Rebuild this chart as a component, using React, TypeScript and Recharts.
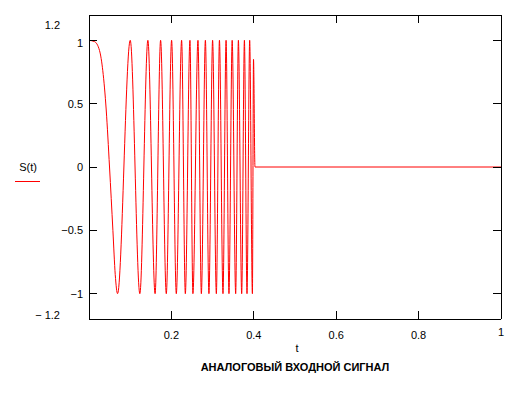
import { Line, LineChart, XAxis, YAxis } from "recharts";

// peaks (+1) and troughs (-1) of S(t)
const peakT = [0.1001, 0.1429, 0.1738, 0.2005, 0.2248, 0.245, 0.2645, 0.2825, 0.3, 0.3166, 0.3327, 0.3475, 0.3626, 0.3772, 0.39];
const troughT = [0.0693, 0.1234, 0.1604, 0.1876, 0.2119, 0.2338, 0.2522, 0.2727, 0.2911, 0.3091, 0.3252, 0.3397, 0.356, 0.3706, 0.3835, 0.3966];

// first falling half-wave
const startT = [0, 0.0134, 0.0255, 0.0335, 0.0418, 0.0498, 0.058, 0.0637];
const startS = [1, 0.99, 0.92, 0.76, 0.45, 0.0, -0.5, -0.85];

// end of the burst and the flat tail
const tailT = [0.3993, 0.4029, 1];
const tailS = [0.85, 0, 0];

const xTicks = [0.2, 0.4, 0.6, 0.8, 1];
const yTicks = [-1.2, -1, -0.5, 0, 0.5, 1, 1.2];
const yInner = [-1, -0.5, 0, 0.5, 1];

const data: { t: number; s: number }[] = [];
startT.forEach((t, i) => data.push({ t, s: startS[i] }));
troughT.forEach((t, i) => {
  if (i > 0) data.push({ t: peakT[i - 1], s: 1 });
  data.push({ t, s: -1 });
});
tailT.forEach((t, i) => data.push({ t, s: tailS[i] }));
data.sort((a, b) => a.t - b.t);

const font = '"Liberation Sans", Arial, sans-serif';
const frame = { stroke: "#000", shapeRendering: "crispEdges" };

function fmtY(v: number) {
  if (v === -1.2) return "\u2212 1.2";
  if (v < 0) return "\u2212" + String(-v);
  return String(v);
}

function LeftTick(props: any) {
  const { x, y, payload } = props;
  const v = payload.value as number;
  if (Math.abs(v) === 1.2) {
    return (
      <text x={x - 29} y={v > 0 ? y + 10 : y - 4} textAnchor="end" dominantBaseline="central" fontSize={11} fontFamily={font} fill="#000">
        {fmtY(v)}
      </text>
    );
  }
  return (
    <g>
      <path d={`M${x},${y}h8`} stroke="#000" strokeWidth={1} fill="none" shapeRendering="crispEdges" />
      <text x={x - 6} y={y + (v === 1 ? 3 : 0)} textAnchor="end" dominantBaseline="central" fontSize={11} fontFamily={font} fill="#000">
        {fmtY(v)}
      </text>
    </g>
  );
}

function RightTick(props: any) {
  const { x, y } = props;
  return <path d={`M${x},${y}h-8`} stroke="#000" strokeWidth={1} fill="none" shapeRendering="crispEdges" />;
}

function BottomTick(props: any) {
  const { x, y, payload } = props;
  const v = payload.value as number;
  return (
    <g>
      {v < 1 && <path d={`M${x},${y}v-8`} stroke="#000" strokeWidth={1} fill="none" shapeRendering="crispEdges" />}
      <text x={x} y={y + (v === 1 ? 13 : 16)} textAnchor="middle" dominantBaseline="central" fontSize={11} fontFamily={font} fill="#000">
        {v}
      </text>
    </g>
  );
}

function TopTick(props: any) {
  const { x, y, payload } = props;
  if (payload.value >= 1) return <g />;
  return <path d={`M${x},${y}v8`} stroke="#000" strokeWidth={1} fill="none" shapeRendering="crispEdges" />;
}

export default function App() {
  return (
    <div style={{ position: "absolute", left: 0, top: 0, width: 530, height: 396, background: "#fff", fontFamily: font }}>
      <LineChart width={530} height={396} data={data} margin={{ top: 14, right: 28, bottom: 0, left: 0 }}>
        <XAxis
          xAxisId={0}
          dataKey="t"
          type="number"
          domain={[0, 1]}
          ticks={xTicks}
          interval={0}
          height={77}
          tickSize={0}
          tickMargin={0}
          tickLine={false}
          tick={<BottomTick />}
          axisLine={frame}
        />
        <XAxis
          xAxisId="top"
          dataKey="t"
          orientation="top"
          type="number"
          domain={[0, 1]}
          ticks={xTicks}
          interval={0}
          height={1}
          tickSize={0}
          tickMargin={0}
          tickLine={false}
          tick={<TopTick />}
          axisLine={frame}
        />
        <YAxis
          yAxisId={0}
          type="number"
          domain={[-1.2, 1.2]}
          ticks={yTicks}
          interval={0}
          width={89}
          tickSize={0}
          tickMargin={0}
          tickLine={false}
          tick={<LeftTick />}
          axisLine={frame}
        />
        <YAxis
          yAxisId="right"
          orientation="right"
          type="number"
          domain={[-1.2, 1.2]}
          ticks={yInner}
          interval={0}
          width={1}
          tickSize={0}
          tickMargin={0}
          tickLine={false}
          tick={<RightTick />}
          axisLine={frame}
        />
        {/* invisible copy so the top and right axes get drawn */}
        <Line
          xAxisId="top"
          yAxisId="right"
          dataKey="s"
          stroke="none"
          dot={false}
          activeDot={false}
          isAnimationActive={false}
        />
        <Line
          xAxisId={0}
          yAxisId={0}
          type="monotone"
          dataKey="s"
          stroke="#ff0000"
          strokeWidth={1}
          dot={false}
          activeDot={false}
          isAnimationActive={false}
        />
      </LineChart>
      <div style={{ position: "absolute", left: 15, top: 161, width: 26, textAlign: "center", fontSize: 11 }}>S(t)</div>
      <div style={{ position: "absolute", left: 15, top: 181, width: 25, height: 1, background: "#ff0000" }} />
      <div style={{ position: "absolute", left: 247, top: 342, width: 100, textAlign: "center", fontSize: 11 }}>t</div>
      <div style={{ position: "absolute", left: 145, top: 361, width: 300, textAlign: "center", fontSize: 11, fontWeight: "bold" }}>
        АНАЛОГОВЫЙ ВХОДНОЙ СИГНАЛ
      </div>
    </div>
  );
}
